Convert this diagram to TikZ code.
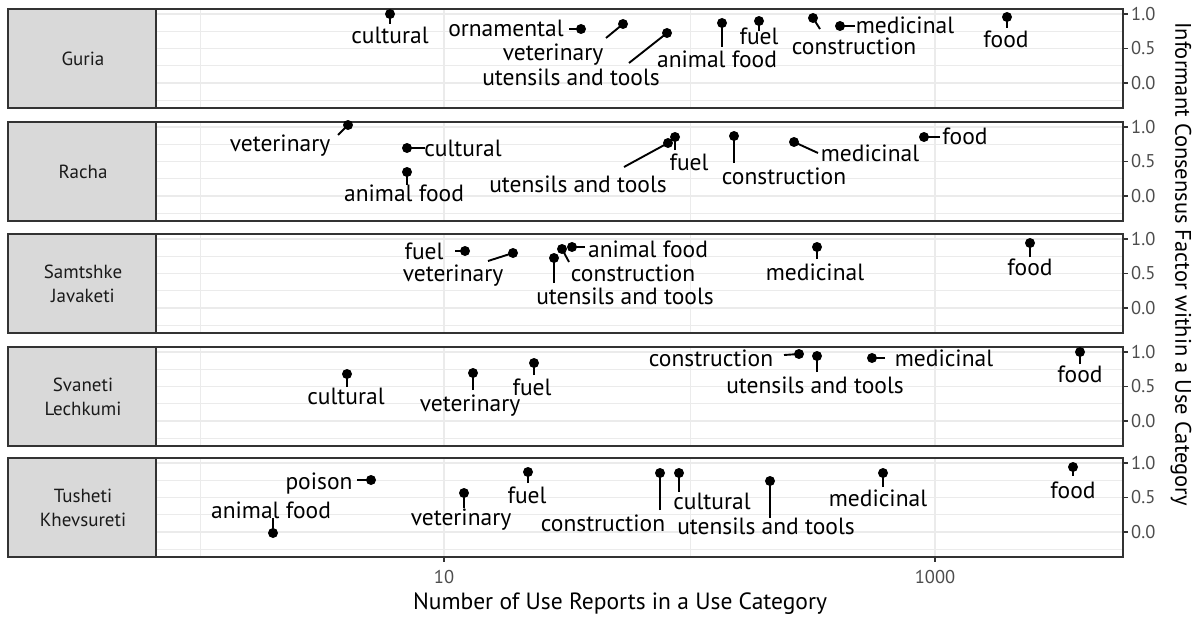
\documentclass[tikz,border=0pt]{standalone}
\usepackage{fontspec}
\setmainfont{PT Sans}
\definecolor{grey20}{HTML}{333333}
\definecolor{grey30}{HTML}{4D4D4D}
\definecolor{grey10}{HTML}{1A1A1A}
\definecolor{grey85}{HTML}{D9D9D9}
\definecolor{grey92}{HTML}{EBEBEB}
\tikzset{
  panelframe/.style={draw=grey20, line width=1.2pt},
  stripbox/.style={draw=grey20, fill=grey85, line width=1.8pt},
  gmajor/.style={draw=grey92, line width=1.3pt},
  gminor/.style={draw=grey92, line width=0.9pt},
  dotmark/.style={circle, fill=black, inner sep=0pt, minimum size=10pt},
  lab/.style={font=\fontsize{23.5}{23.5}\selectfont, inner sep=0pt, text height=16pt, text depth=0pt},
  seg/.style={draw=black, line width=1.9pt},
  ticklab/.style={font=\fontsize{18.5}{18.5}\selectfont, text=grey30, inner sep=0pt},
  tickmark/.style={draw=grey20, line width=1.1pt},
  striptext/.style={font=\fontsize{19}{24}\selectfont, text=grey10, align=center, inner sep=0pt},
  axtitle/.style={font=\fontsize{23.5}{23.5}\selectfont, text=black, inner sep=0pt},
  aytitle/.style={font=\fontsize{22.5}{22.5}\selectfont, text=black, inner sep=0pt}
}
\newcommand\dpoint[8]{%
  \node[dotmark] (#1d) at (#2,#3) {};
  \coordinate (#1s) at (#4,#5);
  \node[lab] (#1l) at (#6,#7) {#8};
  \draw[seg] (#1s) -- (#1d.center);
}
\begin{document}
\begin{tikzpicture}[x=1pt,y=-1pt]
\useasboundingbox (0,0) rectangle (1200,618);
\fill[white] (0,0) rectangle (1200,618);
\foreach \top/\name [count=\i] in {9/Guria, 122/Racha, 234/{Samtshke\\Javaketi}, 347/{Svaneti\\Lechkumi}, 458/{Tusheti\\Khevsureti}} {
  \fill[white] (156,\top) rectangle (1123,\top+99);
  \foreach \v in {-0.25,0.25,0.75} \draw[gminor] (156,{\top+5+(1-\v)*69}) -- (1123,{\top+5+(1-\v)*69});
  \foreach \v in {0,0.5,1} \draw[gmajor] (156,{\top+5+(1-\v)*69}) -- (1123,{\top+5+(1-\v)*69});
  \foreach \x in {200,690} \draw[gminor] (\x,\top) -- (\x,\top+99);
  \foreach \x in {444,935} \draw[gmajor] (\x,\top) -- (\x,\top+99);
  \draw[panelframe] (156,\top) rectangle (1123,\top+99);
  \draw[stripbox] (8,\top) rectangle (156,\top+99);
  \node[striptext] (strip\i) at (83,\top+49.5) {\name};
  \foreach \v/\l [count=\j] in {1/1.0, 0.5/0.5, 0/0.0} {
    \draw[tickmark] (1123,{\top+5+(1-\v)*69}) -- (1128,{\top+5+(1-\v)*69});
    \node[ticklab, anchor=west] (yt\i\j) at (1131,{\top+5+(1-\v)*69}) {\l};
  }
}
% x axis
\draw[tickmark] (444,557) -- (444,562);
\draw[tickmark] (935,557) -- (935,562);
\node[ticklab] (xt1) at (444,577) {10};
\node[ticklab] (xt2) at (935,577) {1000};
\node[axtitle] (xtitle) at (620,604) {Number of Use Reports in a Use Category};
\node[aytitle, rotate=-90] (ytitle) at (1181,264) {Informant Consensus Factor within a Use Category};
% Guria
\dpoint{g1}{390}{14}{390}{24}{390}{36}{cultural}
\dpoint{g2}{581}{29}{569}{29}{506}{29}{ornamental}
\dpoint{g3}{623}{24}{606}{38}{553}{53}{veterinary}
\dpoint{g4}{667}{33}{629}{63}{571}{77}{utensils and tools}
\dpoint{g5}{722}{23}{722}{47}{717}{59.5}{animal food}
\dpoint{g6}{759}{21}{759}{31}{759}{36.5}{fuel}
\dpoint{g7}{813}{18}{820}{29}{854}{47}{construction}
\dpoint{g8}{840}{26}{855}{26}{905}{26}{medicinal}
\dpoint{g9}{1007}{17}{1007}{28}{1006}{40}{food}
% Racha
\dpoint{r1}{348}{125}{338}{135}{280}{143}{veterinary}
\dpoint{r2}{407}{148}{425}{148}{463}{148}{cultural}
\dpoint{r3}{407}{172}{407}{185}{404}{193}{animal food}
\dpoint{r4}{668}{143}{624}{167}{578}{184}{utensils and tools}
\dpoint{r5}{675}{137}{675}{150}{689}{162}{fuel}
\dpoint{r6}{734}{136}{734}{163}{784}{176}{construction}
\dpoint{r7}{794}{142}{818}{153}{870}{153}{medicinal}
\dpoint{r8}{924}{137}{940}{137}{965}{136}{food}
% Samtshke Javaketi
\dpoint{s1}{465}{251}{455}{251}{424}{251}{fuel}
\dpoint{s2}{513}{253}{488}{261}{453}{273}{veterinary}
\dpoint{s3}{554}{258}{554}{283}{625}{296}{utensils and tools}
\dpoint{s4}{562}{249}{569}{262}{633}{273}{construction}
\dpoint{s5}{572}{247}{585}{247}{648}{249}{animal food}
\dpoint{s6}{817}{247}{817}{259}{815}{272}{medicinal}
\dpoint{s7}{1030}{243}{1030}{257}{1030}{267}{food}
% Svaneti Lechkumi
\dpoint{v1}{347}{374}{347}{387}{346}{396}{cultural}
\dpoint{v2}{473}{373}{473}{390}{470}{403}{veterinary}
\dpoint{v3}{534}{363}{534}{375}{532}{387}{fuel}
\dpoint{v4}{799}{354}{784}{355}{711}{358}{construction}
\dpoint{v5}{817}{356}{817}{372}{815}{385}{utensils and tools}
\dpoint{v6}{872}{358}{885}{358}{944}{358}{medicinal}
\dpoint{v7}{1080}{352}{1080}{364}{1080}{374}{food}
% Tusheti Khevsureti
\dpoint{t1}{371}{480}{357}{480}{319}{481}{poison}
\dpoint{t2}{273}{533}{273}{518}{271}{510}{animal food}
\dpoint{t3}{464}{493}{464}{508}{461}{517}{veterinary}
\dpoint{t4}{528}{472}{528}{483}{527}{495}{fuel}
\dpoint{t5}{660}{473}{660}{510}{603}{523}{construction}
\dpoint{t6}{679}{473}{679}{492}{712}{501}{cultural}
\dpoint{t7}{770}{481}{770}{518}{766}{526}{utensils and tools}
\dpoint{t8}{883}{473}{883}{487}{878}{498}{medicinal}
\dpoint{t9}{1073}{467}{1073}{476}{1073}{490}{food}
\end{tikzpicture}
\end{document}
